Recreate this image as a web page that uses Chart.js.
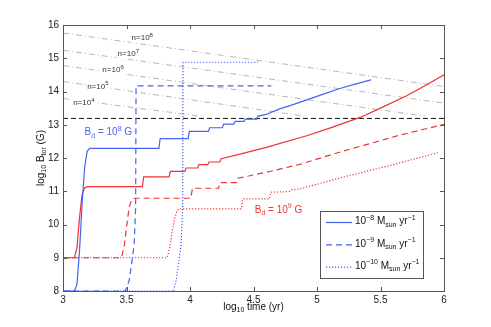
<!DOCTYPE html>
<html>
<head>
<meta charset="utf-8">
<script src="https://cdn.jsdelivr.net/npm/chart.js@4.4.0/dist/chart.umd.min.js"></script>
<style>
html, body { margin: 0; padding: 0; background: #fff; }
</style>
</head>
<body>
<canvas id="bChart" width="491" height="327"></canvas>
<script>
// axis ticks
const xTicks = [3, 3.5, 4, 4.5, 5, 5.5, 6];
const yTicks = [8, 9, 10, 11, 12, 13, 14, 15, 16];

// B_d = 10^8 G (blue), accretion rates 1e-8, 1e-9, 1e-10 Msun/yr  [log t, log B]
const blueRate8 = [[3, 8], [3.09, 8], [3.11, 8.2], [3.13, 9.2], [3.15, 10.6], [3.17, 11.7], [3.19, 12.2], [3.21, 12.29],
  [3.755, 12.29], [3.765, 12.58], [3.985, 12.58], [3.995, 12.8], [4.145, 12.8], [4.155, 12.91], [4.255, 12.91], [4.265, 13.02],
  [4.345, 13.02], [4.355, 13.1], [4.425, 13.1], [4.435, 13.17], [4.525, 13.17], [4.535, 13.26], [4.6, 13.31], [4.7, 13.47],
  [4.8, 13.59], [4.92, 13.75], [5.05, 13.92], [5.18, 14.09], [5.3, 14.22], [5.425, 14.35]];
const blueRate9 = [[3, 8], [3.49, 8], [3.52, 8.3], [3.54, 8.8], [3.56, 9.4], [3.572, 10.5], [3.575, 14.17], [4.64, 14.17]];
const blueRate10 = [[3, 8], [3.87, 8], [3.89, 8.3], [3.91, 8.8], [3.93, 9.4], [3.942, 10.5], [3.945, 14.88], [4.535, 14.88]];

// B_d = 10^9 G (red)
const redRate8 = [[3, 9], [3.09, 9], [3.11, 9.3], [3.13, 10.2], [3.15, 10.9], [3.17, 11.1], [3.19, 11.14], [3.625, 11.14],
  [3.635, 11.43], [3.835, 11.43], [3.845, 11.6], [3.96, 11.6], [3.97, 11.7], [4.06, 11.7], [4.07, 11.8], [4.14, 11.8],
  [4.15, 11.88], [4.235, 11.88], [4.245, 11.98], [4.386, 12.11], [4.6, 12.32], [4.919, 12.67], [5.1, 12.9], [5.339, 13.22],
  [5.5, 13.5], [5.706, 13.87], [5.85, 14.17], [6, 14.5]];
const redRate9 = [[3, 9], [3.46, 9], [3.48, 9.3], [3.5, 9.9], [3.52, 10.5], [3.54, 10.75], [3.56, 10.79], [4.005, 10.79],
  [4.02, 11.09], [4.225, 11.09], [4.235, 11.26], [4.365, 11.26], [4.375, 11.39], [4.6, 11.57], [4.866, 11.81], [5.2, 12.2],
  [5.654, 12.69], [6, 13.01]];
const redRate10 = [[3, 9], [3.82, 9], [3.84, 9.3], [3.86, 9.8], [3.88, 10.2], [3.9, 10.43], [3.92, 10.47], [4.405, 10.47],
  [4.415, 10.77], [4.625, 10.77], [4.635, 10.97], [4.78, 10.99], [4.8, 11.04], [4.866, 11.07], [5.2, 11.42], [5.6, 11.8],
  [5.95, 12.16]];

// horizontal dashed reference level
const critLevel = [[3, 13.19], [6, 13.19]];

// density lines n = 10^4 .. 10^8
const nLine4 = [[3, 13.79], [4.1, 13.25]];
const nLine5 = [[3, 14.3], [4.92, 13.25]];
const nLine6 = [[3, 14.78], [5.85, 13.26]];
const nLine7 = [[3, 15.24], [6, 13.65]];
const nLine8 = [[3, 15.76], [6, 14.15]];
const nExponents = ['4', '5', '6', '7', '8'];

const BLUE = 'rgb(70,100,240)';
const RED = 'rgb(240,50,50)';
const GRAY = 'rgb(175,175,175)';
const FONT = '"Liberation Sans", Arial, sans-serif';

const toXY = arr => arr.map(p => ({ x: p[0], y: p[1] }));

function curve(data, color, dash, width) {
    return {
        data: toXY(data),
        borderColor: color,
        borderWidth: width || 1.2,
        borderDash: dash || [],
        pointRadius: 0,
        fill: false,
        tension: 0
    };
}

// draws text with sub/superscripts: parts = [[text, 'n'|'sub'|'sup'], ...]
function richText(ctx, parts, x, y, size, align) {
    const small = Math.round(size * 0.72);
    const fontOf = m => (m === 'n' ? size : small) + 'px ' + FONT;
    const widths = parts.map(p => { ctx.font = fontOf(p[1]); return ctx.measureText(p[0]).width; });
    const total = widths.reduce((a, b) => a + b, 0);
    let cx = align === 'center' ? x - total / 2 : (align === 'right' ? x - total : x);
    ctx.textAlign = 'left';
    ctx.textBaseline = 'middle';
    parts.forEach((p, i) => {
        ctx.font = fontOf(p[1]);
        const dy = p[1] === 'sub' ? size * 0.32 : (p[1] === 'sup' ? -size * 0.38 : 0);
        ctx.fillText(p[0], cx, y + dy);
        cx += widths[i];
    });
    return total;
}

const decorPlugin = {
    id: 'decor',
    afterDatasetsDraw(chart) {
        const ctx = chart.ctx;
        const xs = chart.scales.x, ys = chart.scales.y;
        const a = chart.chartArea;
        ctx.save();

        // n = 10^k labels with white boxes over the gray lines
        const nPos = [[3.08, 13.65], [3.19, 14.14], [3.31, 14.65], [3.43, 15.13], [3.54, 15.61]];
        nExponents.forEach((e, i) => {
            const px = xs.getPixelForValue(nPos[i][0]);
            const py = ys.getPixelForValue(nPos[i][1]);
            ctx.font = '8px ' + FONT;
            const w = ctx.measureText('n=10').width + 5;
            ctx.fillStyle = '#fff';
            ctx.fillRect(px - 1, py - 7, w + 2, 12);
            ctx.fillStyle = '#333';
            richText(ctx, [['n=10', 'n'], [e, 'sup']], px, py, 8, 'left');
        });

        // B_d labels
        ctx.fillStyle = BLUE;
        richText(ctx, [['B', 'n'], ['d', 'sub'], [' = 10', 'n'], ['8', 'sup'], [' G', 'n']],
            xs.getPixelForValue(3.17), ys.getPixelForValue(12.76), 10, 'left');
        ctx.fillStyle = RED;
        richText(ctx, [['B', 'n'], ['d', 'sub'], [' = 10', 'n'], ['9', 'sup'], [' G', 'n']],
            xs.getPixelForValue(4.51), ys.getPixelForValue(10.44), 10, 'left');

        // axes box with inward ticks
        ctx.strokeStyle = '#555';
        ctx.lineWidth = 1;
        ctx.setLineDash([]);
        ctx.strokeRect(Math.round(a.left) + 0.5, Math.round(a.top) + 0.5,
            Math.round(a.right - a.left), Math.round(a.bottom - a.top));
        ctx.beginPath();
        xTicks.forEach(v => {
            const px = Math.round(xs.getPixelForValue(v)) + 0.5;
            ctx.moveTo(px, a.bottom); ctx.lineTo(px, a.bottom - 4);
            ctx.moveTo(px, a.top); ctx.lineTo(px, a.top + 4);
        });
        yTicks.forEach(v => {
            const py = Math.round(ys.getPixelForValue(v)) + 0.5;
            ctx.moveTo(a.left, py); ctx.lineTo(a.left + 4, py);
            ctx.moveTo(a.right, py); ctx.lineTo(a.right - 4, py);
        });
        ctx.stroke();

        // axis titles
        ctx.fillStyle = '#111';
        richText(ctx, [['log', 'n'], ['10', 'sub'], [' time (yr)', 'n']], (a.left + a.right) / 2, 307, 10, 'center');
        ctx.save();
        ctx.translate(41, (a.top + a.bottom) / 2);
        ctx.rotate(-Math.PI / 2);
        richText(ctx, [['log', 'n'], ['10', 'sub'], [' B', 'n'], ['tor', 'sub'], [' (G)', 'n']], 0, 0, 10, 'center');
        ctx.restore();

        // legend
        const lx = 320, ly = 211, lw = 103, lh = 67;
        ctx.fillStyle = '#fff';
        ctx.fillRect(lx, ly, lw, lh);
        ctx.strokeStyle = '#555';
        ctx.strokeRect(lx + 0.5, ly + 0.5, lw, lh);
        const entries = [['\u22128', []], ['\u22129', [6, 4]], ['\u221210', [1.2, 1.8]]];
        entries.forEach((en, i) => {
            const ry = ly + 11.5 + i * 22.3;
            ctx.strokeStyle = BLUE;
            ctx.lineWidth = 1.2;
            ctx.setLineDash(en[1]);
            ctx.beginPath();
            ctx.moveTo(lx + 6, ry); ctx.lineTo(lx + 32, ry);
            ctx.stroke();
            ctx.setLineDash([]);
            ctx.fillStyle = '#111';
            richText(ctx, [['10', 'n'], [en[0], 'sup'], [' M', 'n'], ['sun', 'sub'], [' yr', 'n'], ['\u22121', 'sup']],
                lx + 35, ry - 1, 10, 'left');
        });
        ctx.restore();
    }
};

const chart = new Chart(document.getElementById('bChart').getContext('2d'), {
    type: 'line',
    data: {
        datasets: [
            curve(blueRate8, BLUE),
            curve(blueRate9, BLUE, [6, 4]),
            curve(blueRate10, BLUE, [1.2, 1.8]),
            curve(redRate8, RED),
            curve(redRate9, RED, [6, 4]),
            curve(redRate10, RED, [1.2, 1.8]),
            curve(critLevel, '#111', [5, 3], 1),
            curve(nLine4, GRAY, [6, 3, 1, 3], 0.9),
            curve(nLine5, GRAY, [6, 3, 1, 3], 0.9),
            curve(nLine6, GRAY, [6, 3, 1, 3], 0.9),
            curve(nLine7, GRAY, [6, 3, 1, 3], 0.9),
            curve(nLine8, GRAY, [6, 3, 1, 3], 0.9)
        ]
    },
    options: {
        responsive: false,
        animation: false,
        devicePixelRatio: 1,
        layout: { padding: { left: 0, right: 47, top: 25, bottom: 0 } },
        plugins: { legend: { display: false }, tooltip: { enabled: false } },
        scales: {
            x: {
                type: 'linear', min: 3, max: 6,
                afterBuildTicks: s => { s.ticks = xTicks.map(v => ({ value: v })); },
                afterFit: s => { s.height = 36; },
                ticks: { font: { size: 10, family: FONT }, color: '#222', padding: 3, maxRotation: 0,
                    callback: v => String(v) },
                grid: { display: false, drawTicks: false },
                border: { display: false }
            },
            y: {
                type: 'linear', min: 8, max: 16,
                afterBuildTicks: s => { s.ticks = yTicks.map(v => ({ value: v })); },
                afterFit: s => { s.width = 63; },
                ticks: { font: { size: 10, family: FONT }, color: '#222', padding: 4,
                    callback: v => String(v) },
                grid: { display: false, drawTicks: false },
                border: { display: false }
            }
        }
    },
    plugins: [decorPlugin]
});
</script>
</body>
</html>
